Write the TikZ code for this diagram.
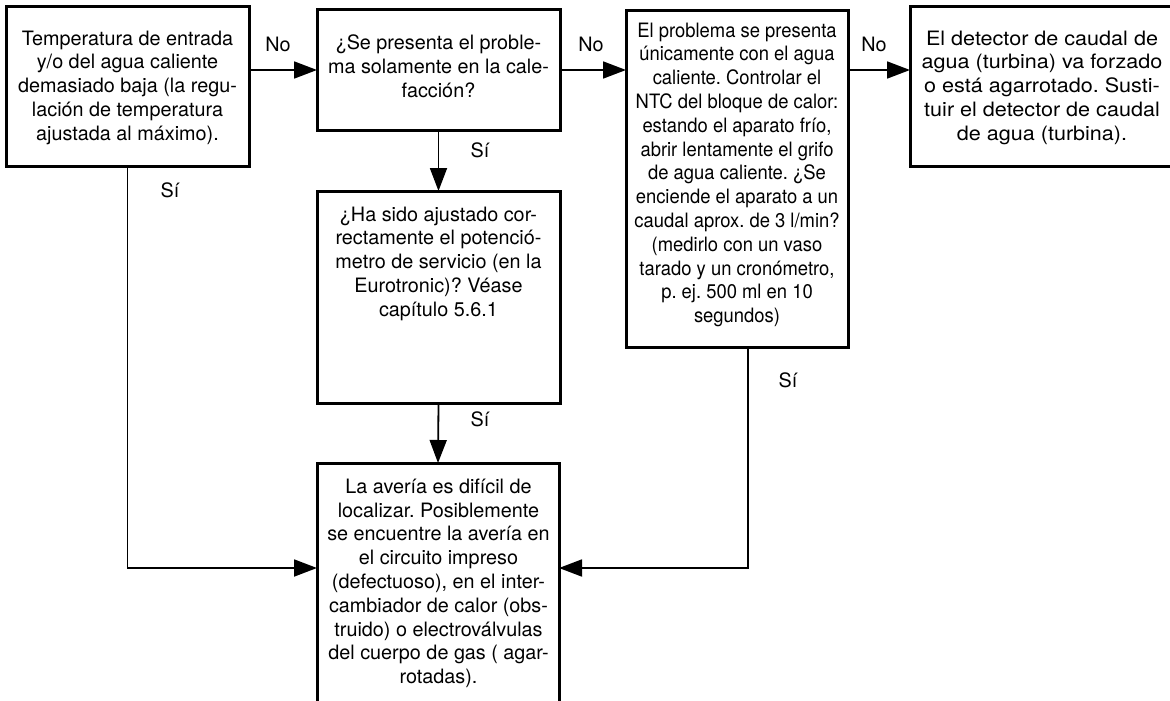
\documentclass[tikz,border=0pt]{standalone}
\usepackage{fontspec}
\setmainfont{TeX Gyre Heros}
\newfontfamily\narrowheros[FakeStretch=0.93]{TeX Gyre Heros}
\newfontfamily\wideheros[FakeStretch=1.09]{TeX Gyre Heros}
\usetikzlibrary{arrows.meta}
\frenchspacing
\begin{document}
\begin{tikzpicture}[x=1pt,y=-1pt,
  frame/.style={draw=black, line width=3pt, inner sep=0pt, outer sep=0pt, rectangle},
  txt/.style={align=center, inner sep=0pt, font=\fontsize{19.8}{23.8}\selectfont},
  lbl/.style={inner sep=0pt, font=\fontsize{19.8}{23.8}\selectfont},
  conn/.style={line width=1.8pt, -{Triangle[length=23pt,width=17pt]}}]
\useasboundingbox (0,0) rectangle (1170,701);
% boxes
\node[frame, minimum width=243pt, minimum height=159pt] (b1) at (127.5,86.5) {};
\node[frame, minimum width=243pt, minimum height=120pt] (b2) at (438.5,70) {};
\node[frame, minimum width=243pt, minimum height=212pt] (b3) at (438.5,297) {};
\node[inner sep=0pt, outer sep=0pt, minimum width=242pt, minimum height=250pt] (b4) at (438,588) {};
\draw[line width=3pt] (b4.south west) -- (b4.north west) -- (b4.north east) -- (b4.south east);
\node[frame, minimum width=222pt, minimum height=336pt] (b5) at (737,179) {};
\node[frame, minimum width=262pt, minimum height=159pt] (b6) at (1041,86.5) {};
% texts
\node[txt, anchor=north] (t1) at (127.5,30.5) {Temperatura de entrada\\y/o del agua caliente\\demasiado baja (la regu-\\lación de temperatura\\ajustada al máximo).};
\node[txt, anchor=north] (t2) at (438.5,34.5) {¿Se presenta el proble-\\ma solamente en la cale-\\facción?};
\node[txt, anchor=north] (t3) at (438.5,206.5) {¿Ha sido ajustado cor-\\rectamente el potenció-\\metro de servicio (en la\\Eurotronic)? Véase\\capítulo 5.6.1};
\node[txt, anchor=north] (t4) at (438.5,478.5) {La avería es difícil de\\localizar. Posiblemente\\se encuentre la avería en\\el circuito impreso\\(defectuoso), en el inter-\\cambiador de calor (obs-\\truido) o electroválvulas\\del cuerpo de gas ( agar-\\rotadas).};
\node[txt, anchor=north, font=\fontsize{19.8}{23.8}\narrowheros] (t5) at (737,22.5) {El problema se presenta\\únicamente con el agua\\caliente. Controlar el\\NTC del bloque de calor:\\estando el aparato frío,\\abrir lentamente el grifo\\de agua caliente. ¿Se\\enciende el aparato a un\\caudal aprox. de 3 l/min?\\(medirlo con un vaso\\tarado y un cronómetro,\\p. ej. 500 ml en 10\\segundos)};
\node[txt, anchor=north, font=\fontsize{19.8}{23.8}\wideheros] (t6) at (1042,30.5) {El detector de caudal de\\agua (turbina) va forzado\\o está agarrotado. Susti-\\tuir el detector de caudal\\de agua (turbina).};
% join coordinates
\coordinate (j) at (0,568);
\coordinate (d5) at (748,347);
% connectors
\draw[conn] (b1.east |- b2.west) -- (b2.west);
\draw[conn] (b2.east) -- (b5.west |- b2.east);
\draw[conn] (b5.east |- b2.east) -- (b6.west |- b2.east);
\draw[conn] (b2.south) -- (b3.north);
\draw[conn] (b3.south) -- (b4.north);
\draw[conn] (b1.south) -- (b1.south |- j) -- (b4.west |- j);
\draw[conn] (d5) -- (d5 |- j) -- (b4.east |- j);
% labels
\node[lbl] (n1) at (278,44) {No};
\node[lbl] (n2) at (591,44) {No};
\node[lbl] (n3) at (874,44) {No};
\node[lbl] (s1) at (480,150) {Sí};
\node[lbl] (s2) at (480,419) {Sí};
\node[lbl] (s3) at (170,190) {Sí};
\node[lbl] (s4) at (788,380) {Sí};
\end{tikzpicture}
\end{document}
